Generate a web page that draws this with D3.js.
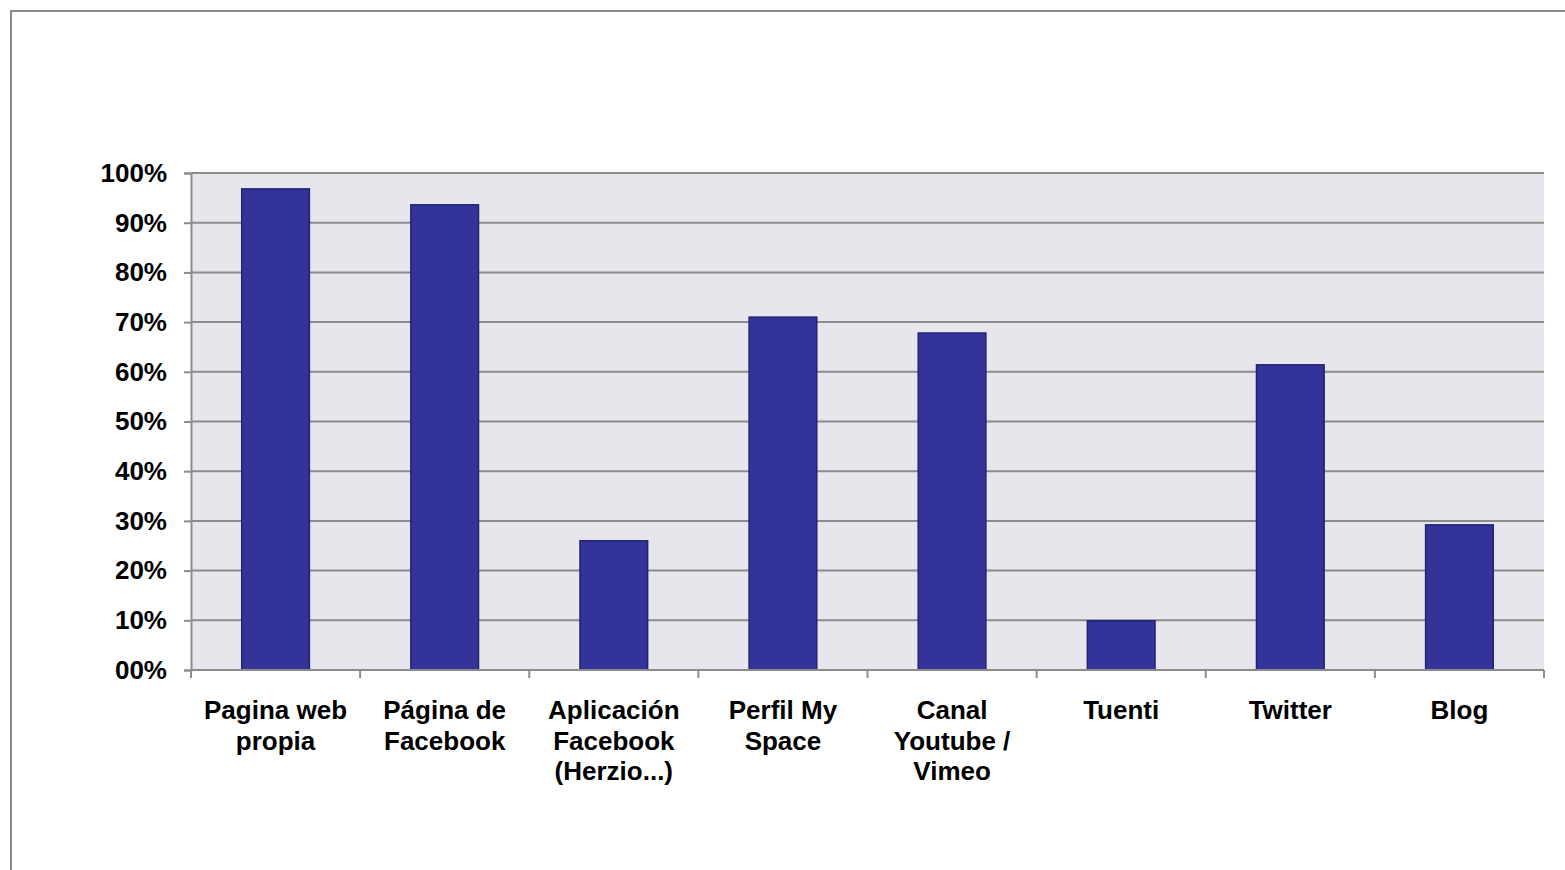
<!DOCTYPE html>
<html>
<head>
<meta charset="utf-8">
<script src="https://cdn.jsdelivr.net/npm/d3@7"></script>
<style>
  body { margin: 0; background: #fff; }
  svg { display: block; }
  text { font-family: "Liberation Sans", Arial, sans-serif; font-weight: bold; fill: #000; }
</style>
</head>
<body>
<svg id="chart"></svg>
<script>
    var w = 1565
    var h = 870

    // data
    var categories = [
        "Pagina web\npropia",
        "Página de\nFacebook",
        "Aplicación\nFacebook\n(Herzio...)",
        "Perfil My\nSpace",
        "Canal\nYoutube /\nVimeo",
        "Tuenti",
        "Twitter",
        "Blog"
    ]
    var values = [96.8, 93.6, 26.0, 71.0, 67.8, 9.9, 61.4, 29.2]
    var yTicks = [0, 10, 20, 30, 40, 50, 60, 70, 80, 90, 100]

    var plot = {left: 191, top: 173, right: 1544, bottom: 670}

    var svg = d3.select("#chart").attr("width", w).attr("height", h)

    // outer frame (cut by the window on the right and bottom)
    svg.append("rect")
        .attr("x", 11).attr("y", 11)
        .attr("width", w + 20).attr("height", h + 20)
        .attr("fill", "none")
        .attr("stroke", "#8a8a8a")
        .attr("stroke-width", 2)

    var x = d3.scaleBand()
        .domain(categories)
        .range([plot.left, plot.right])
        .paddingInner(0.6)
        .paddingOuter(0.3)

    var xEdges = d3.scaleBand()
        .domain(categories)
        .range([plot.left, plot.right])

    var y = d3.scaleLinear()
        .domain([0, 100])
        .range([plot.bottom, plot.top])

    // plot background
    svg.append("rect")
        .attr("x", plot.left).attr("y", plot.top)
        .attr("width", plot.right - plot.left)
        .attr("height", plot.bottom - plot.top)
        .attr("fill", "#e6e6ec")

    // gridlines
    svg.append("g")
        .selectAll("line")
        .data(yTicks.slice(1))
        .enter()
        .append("line")
        .attr("x1", plot.left).attr("x2", plot.right)
        .attr("y1", function(d) { return y(d) })
        .attr("y2", function(d) { return y(d) })
        .attr("stroke", "#8c8c8c")
        .attr("stroke-width", 2)

    // bars
    svg.append("g")
        .selectAll("rect")
        .data(values)
        .enter()
        .append("rect")
        .attr("x", function(d, i) { return x(categories[i]) })
        .attr("y", function(d) { return y(d) })
        .attr("width", x.bandwidth())
        .attr("height", function(d) { return y(0) - y(d) })
        .attr("fill", "#333399")
        .attr("stroke", "#222277")
        .attr("stroke-width", 1.5)

    // y axis
    var yAxis = svg.append("g")
        .attr("transform", "translate(" + plot.left + ",0)")
        .call(d3.axisLeft(y)
            .tickValues(yTicks)
            .tickSize(7)
            .tickPadding(17)
            .tickFormat(function(d) { return String(d).padStart(2, "0") + "%" }))
    yAxis.select(".domain").attr("stroke", "#8c8c8c").attr("stroke-width", 2)
    yAxis.selectAll(".tick line").attr("stroke", "#8c8c8c").attr("stroke-width", 2)
    yAxis.selectAll("text")
        .attr("font-size", 26)
        .attr("font-family", "Liberation Sans, Arial, sans-serif")
        .attr("font-weight", "bold")
        .attr("fill", "#000")

    // x axis: baseline + ticks at category edges
    var xAxis = svg.append("g")
    xAxis.append("line")
        .attr("x1", plot.left).attr("x2", plot.right)
        .attr("y1", plot.bottom).attr("y2", plot.bottom)
        .attr("stroke", "#8c8c8c").attr("stroke-width", 2)
    var edges = categories.map(function(c) { return xEdges(c) }).concat([plot.right])
    xAxis.selectAll("line.edge")
        .data(edges)
        .enter()
        .append("line")
        .attr("class", "edge")
        .attr("x1", function(d) { return d }).attr("x2", function(d) { return d })
        .attr("y1", plot.bottom).attr("y2", plot.bottom + 8)
        .attr("stroke", "#8c8c8c").attr("stroke-width", 2)

    // category labels
    var labels = svg.append("g")
        .selectAll("text")
        .data(categories)
        .enter()
        .append("text")
        .attr("text-anchor", "middle")
        .attr("font-size", 26)
        .attr("x", function(d) { return x(d) + x.bandwidth() / 2 })
        .attr("y", 719)
    labels.each(function(d) {
        var t = d3.select(this)
        var cx = x(d) + x.bandwidth() / 2
        d.split("\n").forEach(function(line, k) {
            t.append("tspan")
                .attr("x", cx)
                .attr("dy", k == 0 ? 0 : 30.5)
                .text(line)
        })
    })
</script>
</body>
</html>
